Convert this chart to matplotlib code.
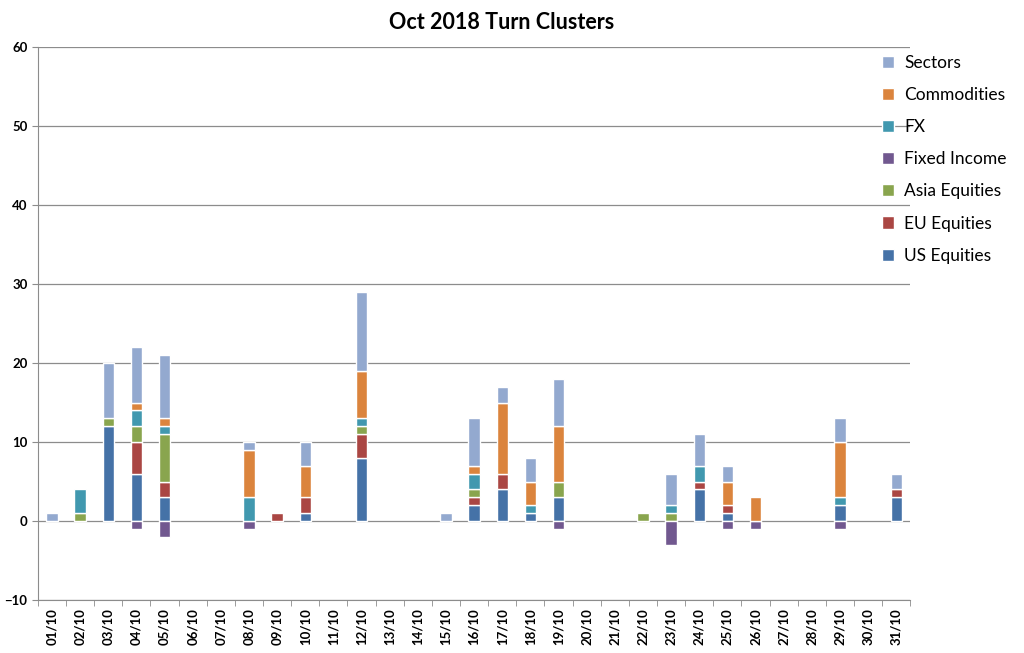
import matplotlib
matplotlib.use('Agg')
import matplotlib.pyplot as plt
import numpy as np

plt.rcParams['font.family'] = ['Lato', 'DejaVu Sans']

days = ['%02d/10' % d for d in range(1, 32)]

# values per day, 01/10 .. 31/10
us_eq   = [0,0,12,6,3,0,0,0,0,1,0,8,0,0,0,2,4,1,3,0,0,0,0,4,1,0,0,0,2,0,3]
eu_eq   = [0,0,0,4,2,0,0,0,1,2,0,3,0,0,0,1,2,0,0,0,0,0,0,1,1,0,0,0,0,0,1]
asia_eq = [0,1,1,2,6,0,0,0,0,0,0,1,0,0,0,1,0,0,2,0,0,1,1,0,0,0,0,0,0,0,0]
fixed   = [0,0,0,-1,-2,0,0,-1,0,0,0,0,0,0,0,0,0,0,-1,0,0,0,-3,0,-1,-1,0,0,-1,0,0]
fx      = [0,3,0,2,1,0,0,3,0,0,0,1,0,0,0,2,0,1,0,0,0,0,1,2,0,0,0,0,1,0,0]
commod  = [0,0,0,1,1,0,0,6,0,4,0,6,0,0,0,1,9,3,7,0,0,0,0,0,3,3,0,0,7,0,0]
sectors = [1,0,7,7,8,0,0,1,0,3,0,10,0,0,1,6,2,3,6,0,0,0,4,4,2,0,0,0,3,0,2]

series = [
    ('US Equities', us_eq, '#4572A7'),
    ('EU Equities', eu_eq, '#AA4643'),
    ('Asia Equities', asia_eq, '#89A54E'),
    ('Fixed Income', fixed, '#71588F'),
    ('FX', fx, '#4198AF'),
    ('Commodities', commod, '#DB843D'),
    ('Sectors', sectors, '#93A9CF'),
]

fig = plt.figure(figsize=(10.24, 6.53), dpi=100)
ax = fig.add_axes([0.037, 0.081, 0.852, 0.847])

x = np.arange(len(days))
pos = np.zeros(len(days))
neg = np.zeros(len(days))
handles = []
for name, vals, col in series:
    v = np.array(vals, dtype=float)
    base = np.where(v >= 0, pos, neg)
    nz = v != 0
    b = ax.bar(x[nz], v[nz], 0.4, bottom=base[nz], color=col, edgecolor='white',
               linewidth=1.0, label=name, zorder=3)
    handles.append(b)
    pos = pos + np.where(v > 0, v, 0)
    neg = neg + np.where(v < 0, v, 0)

ax.set_xlim(-0.5, len(days) - 0.5)
ax.set_ylim(-10, 60)
ax.set_yticks(range(-10, 61, 10))
ax.yaxis.grid(True, color='#8c8c8c', linewidth=0.9, zorder=0)
ax.set_axisbelow(True)

ax.set_xticks(x)
ax.set_xticklabels(days, rotation=90, fontsize=9.5, fontweight='bold')
ax.set_xticks(np.arange(-0.5, len(days), 1), minor=True)
ax.tick_params(axis='x', which='major', length=0, pad=6)
ax.tick_params(axis='x', which='minor', length=4, color='#8c8c8c', direction='out')
ax.tick_params(axis='y', labelsize=9.5, length=4, color='#8c8c8c')
for lab in ax.get_yticklabels():
    lab.set_fontweight('bold')

for s in ['top', 'right']:
    ax.spines[s].set_visible(False)
ax.spines['left'].set_color('#8c8c8c')
ax.spines['bottom'].set_color('#8c8c8c')

fig.suptitle('Oct 2018 Turn Clusters', x=0.49, y=0.982, fontsize=15.5, fontweight='bold')

leg = fig.legend(handles[::-1], [s[0] for s in series][::-1], loc='upper left',
                 bbox_to_anchor=(0.846, 0.94), frameon=False, fontsize=12.5,
                 handlelength=0.7, handleheight=0.7, labelspacing=0.93, handletextpad=0.6)

fig.savefig('out.png', dpi=100)
